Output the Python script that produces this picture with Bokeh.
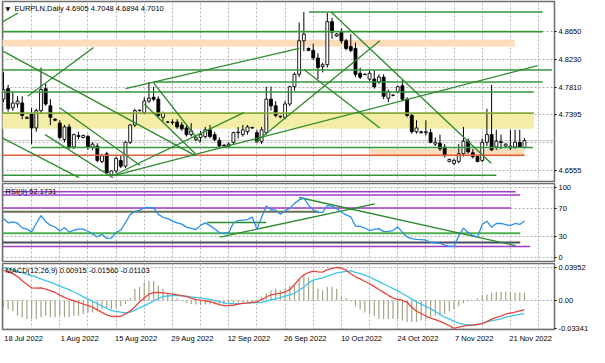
from bokeh.plotting import figure
from bokeh.models import Range1d, FixedTicker, Label, ColumnDataSource, PrintfTickFormatter
from bokeh.layouts import column
from bokeh.embed import file_html
from bokeh.resources import INLINE

SYMBOL = "EURPLN,Daily"

open_ = [4.7631, 4.7789, 4.7502, 4.7559, 4.7574, 4.7344, 4.7416, 4.7200, 4.7459, 4.7789,
         4.7531, 4.7330, 4.7272, 4.7028, 4.7215, 4.6913, 4.7086, 4.7057, 4.7071, 4.6913,
         4.6928, 4.6698, 4.6813, 4.6497, 4.6555, 4.6713, 4.6627, 4.6985, 4.7244, 4.7459,
         4.7430, 4.7602, 4.7660, 4.7631, 4.7359, 4.7287, 4.7287, 4.7287, 4.7244, 4.7200,
         4.7100, 4.7028, 4.7057, 4.7071, 4.7172, 4.7100, 4.7014, 4.6942, 4.6928, 4.6985,
         4.7129, 4.7100, 4.7143, 4.7200, 4.7129, 4.7000, 4.7129, 4.7631, 4.7531, 4.7373,
         4.7359, 4.7559, 4.7818, 4.8004, 4.8506, 4.8392, 4.8363, 4.8248, 4.8119, 4.8148,
         4.8793, 4.8578, 4.8635, 4.8506, 4.8420, 4.8392, 4.8019, 4.8004, 4.7932, 4.7932,
         4.7889, 4.7961, 4.7645, 4.7688, 4.7746, 4.7832, 4.7631, 4.7387, 4.7143, 4.7129,
         4.7129, 4.7129, 4.6957, 4.6971, 4.6913, 4.6698, 4.6670, 4.6698, 4.6813, 4.7000,
         4.6828, 4.6770, 4.6713, 4.6985, 4.7100, 4.6913, 4.6992, 4.6928, 4.6899, 4.6913,
         4.6985, 4.6905]
high_ = [4.8033, 4.7846, 4.7746, 4.7674, 4.7674, 4.7373, 4.7502, 4.7488, 4.8105, 4.7860,
         4.7631, 4.7344, 4.7315, 4.7244, 4.7258, 4.7114, 4.7143, 4.7100, 4.7100, 4.6985,
         4.6971, 4.6813, 4.6842, 4.6555, 4.6770, 4.6784, 4.7000, 4.7258, 4.7488, 4.7473,
         4.7660, 4.7889, 4.7818, 4.7674, 4.7445, 4.7301, 4.7330, 4.7330, 4.7287, 4.7244,
         4.7272, 4.7071, 4.7157, 4.7215, 4.7244, 4.7143, 4.7057, 4.6957, 4.6985, 4.7143,
         4.7215, 4.7244, 4.7244, 4.7215, 4.7172, 4.7215, 4.7818, 4.7818, 4.7602, 4.7387,
         4.7602, 4.7832, 4.8033, 4.8779, 4.8937, 4.8406, 4.8463, 4.8320, 4.8177, 4.8922,
         4.8851, 4.8621, 4.8693, 4.8535, 4.8607, 4.8478, 4.8105, 4.8019, 4.8062, 4.8062,
         4.8004, 4.8004, 4.7774, 4.7703, 4.7832, 4.7918, 4.7660, 4.7416, 4.7315, 4.7157,
         4.7315, 4.7186, 4.7057, 4.7100, 4.6957, 4.6741, 4.6741, 4.6957, 4.7215, 4.7043,
         4.6885, 4.6784, 4.7043, 4.7488, 4.7846, 4.7172, 4.7100, 4.6971, 4.7172, 4.7172,
         4.7172, 4.7048]
low_ = [4.7588, 4.7445, 4.7459, 4.7502, 4.7330, 4.7330, 4.6957, 4.7143, 4.7416, 4.7531,
        4.7244, 4.7301, 4.7028, 4.6985, 4.6885, 4.6885, 4.7028, 4.7043, 4.6870, 4.6870,
        4.6684, 4.6670, 4.6512, 4.6490, 4.6526, 4.6598, 4.6598, 4.6957, 4.7215, 4.7445,
        4.7402, 4.7574, 4.7602, 4.7359, 4.7301, 4.7272, 4.7244, 4.7186, 4.7157, 4.7071,
        4.7071, 4.7000, 4.6985, 4.7043, 4.7043, 4.7000, 4.6914, 4.6920, 4.6900, 4.6957,
        4.7043, 4.7071, 4.7100, 4.7186, 4.6971, 4.6957, 4.7100, 4.7459, 4.7359, 4.7344,
        4.7330, 4.7531, 4.7760, 4.7961, 4.8349, 4.8349, 4.8220, 4.7932, 4.8033, 4.8105,
        4.8535, 4.8564, 4.8463, 4.8363, 4.8335, 4.7961, 4.7932, 4.7990, 4.7904, 4.7789,
        4.7860, 4.7631, 4.7588, 4.7674, 4.7717, 4.7602, 4.7359, 4.7114, 4.7114, 4.7114,
        4.7086, 4.6971, 4.6928, 4.6856, 4.6756, 4.6684, 4.6641, 4.6670, 4.6770, 4.6813,
        4.6741, 4.6684, 4.6684, 4.6928, 4.6856, 4.6870, 4.6885, 4.6914, 4.6870, 4.6885,
        4.6899, 4.6894]
close_ = [4.7775, 4.7488, 4.7574, 4.7602, 4.7387, 4.7359, 4.7200, 4.7459, 4.7775, 4.7559,
          4.7359, 4.7315, 4.7057, 4.7215, 4.6913, 4.7100, 4.7071, 4.7086, 4.6913, 4.6957,
          4.6713, 4.6784, 4.6526, 4.6555, 4.6741, 4.6627, 4.6985, 4.7244, 4.7459, 4.7466,
          4.7602, 4.7645, 4.7631, 4.7387, 4.7416, 4.7290, 4.7280, 4.7215, 4.7186, 4.7100,
          4.7157, 4.7057, 4.7100, 4.7172, 4.7071, 4.7028, 4.6928, 4.6930, 4.6957, 4.7129,
          4.7136, 4.7172, 4.7215, 4.7208, 4.7000, 4.7172, 4.7631, 4.7531, 4.7387, 4.7366,
          4.7559, 4.7818, 4.8004, 4.8506, 4.8607, 4.8363, 4.8248, 4.8105, 4.8148, 4.8793,
          4.8635, 4.8607, 4.8506, 4.8392, 4.8363, 4.8004, 4.7961, 4.8000, 4.8019, 4.7818,
          4.7961, 4.7674, 4.7746, 4.7690, 4.7818, 4.7631, 4.7387, 4.7143, 4.7200, 4.7143,
          4.7143, 4.6985, 4.6985, 4.6885, 4.6784, 4.6727, 4.6713, 4.6813, 4.7000, 4.6842,
          4.6770, 4.6698, 4.6985, 4.7100, 4.6870, 4.7000, 4.6985, 4.6957, 4.6928, 4.6985,
          4.6913, 4.7010]

rsi9 = [55.9, 49.6, 50.9, 49.0, 42.4, 40.7, 36.7, 48.6, 59.7, 51.2,
        46.2, 43.6, 37.9, 42.6, 36.3, 39.0, 40.5, 40.5, 37.6, 33.5,
        29.7, 33.1, 27.5, 27.8, 36.1, 39.2, 49.7, 61.2, 65.7, 67.3,
        71.1, 71.6, 70.8, 61.5, 57.4, 55.4, 52.0, 49.6, 47.7, 43.5,
        41.7, 40.0, 45.9, 49.5, 45.5, 41.2, 35.4, 34.6, 35.8, 49.3,
        52.6, 53.4, 54.2, 57.7, 40.5, 57.3, 73.6, 68.1, 67.6, 61.6,
        66.7, 70.1, 77.2, 82.1, 84.7, 74.5, 67.9, 64.3, 64.3, 74.1,
        73.2, 69.6, 64.9, 60.7, 58.1, 45.0, 44.5, 42.2, 38.6, 40.3,
        41.3, 37.0, 37.4, 38.5, 43.8, 35.9, 29.3, 27.0, 26.1, 25.8,
        24.9, 21.6, 21.6, 20.5, 17.8, 16.1, 16.2, 31.1, 42.0, 35.7,
        31.6, 29.3, 47.3, 52.0, 43.2, 48.6, 48.6, 46.9, 45.6, 48.6,
        47.3, 52.1731]

macd_main = [0.03637, 0.03431, 0.03215, 0.02861, 0.02348, 0.01927, 0.01505, 0.01471, 0.01505, 0.01368,
             0.01174, 0.00958, 0.00638, 0.00365, 0.00148, -0.00046, -0.00239, -0.00422, -0.00604, -0.00809,
             -0.01117, -0.01425, -0.01733, -0.01904, -0.01915, -0.01892, -0.01596, -0.01265, -0.00741, -0.00182,
             0.00296, 0.00752, 0.00935, 0.00969, 0.00912, 0.00855, 0.00752, 0.00661, 0.00581, 0.00467,
             0.00285, 0.00103, 0.00034, -0.00034, -0.00137, -0.00308, -0.00490, -0.00604, -0.00627, -0.00570,
             -0.00445, -0.00342, -0.00285, -0.00217, -0.00171, 0.00091, 0.00445, 0.00650, 0.00798, 0.00855,
             0.01015, 0.01288, 0.01915, 0.02554, 0.03067, 0.03340, 0.03511, 0.03409, 0.03386, 0.03694,
             0.03830, 0.03952, 0.03853, 0.03625, 0.03203, 0.02827, 0.02576, 0.02269, 0.01995, 0.01653,
             0.01311, 0.00969, 0.00616, 0.00285, 0.00125, 0.00011, -0.00217, -0.00809, -0.01288, -0.01562,
             -0.01858, -0.02109, -0.02291, -0.02497, -0.02747, -0.03021, -0.03341, -0.03181, -0.03055, -0.02987,
             -0.02941, -0.02850, -0.02759, -0.02531, -0.02223, -0.02029, -0.01881, -0.01620, -0.01500, -0.01380,
             -0.01240, -0.01103]
macd_signal = [0.03940, 0.03842, 0.03659, 0.03477, 0.03295, 0.03124, 0.02964, 0.02804, 0.02588, 0.02383,
               0.02189, 0.01961, 0.01721, 0.01505, 0.01300, 0.01015, 0.00741, 0.00433, 0.00160, -0.00114,
               -0.00388, -0.00661, -0.00935, -0.01220, -0.01311, -0.01391, -0.01482, -0.01391, -0.01151, -0.00878,
               -0.00638, -0.00353, -0.00068, 0.00217, 0.00479, 0.00536, 0.00570, 0.00593, 0.00547, 0.00513,
               0.00433, 0.00365, 0.00308, 0.00228, 0.00114, 0.00000, -0.00125, -0.00285, -0.00376, -0.00376,
               -0.00376, -0.00353, -0.00319, -0.00274, -0.00262, -0.00228, -0.00080, 0.00057, 0.00182, 0.00342,
               0.00513, 0.00673, 0.00855, 0.01220, 0.01619, 0.02075, 0.02440, 0.02576, 0.02713, 0.02907,
               0.03101, 0.03306, 0.03397, 0.03477, 0.03534, 0.03363, 0.03203, 0.03032, 0.02804, 0.02531,
               0.02257, 0.01972, 0.01699, 0.01414, 0.01140, 0.00832, 0.00502, 0.00160, -0.00160, -0.00433,
               -0.00718, -0.00980, -0.01311, -0.01642, -0.01972, -0.02223, -0.02485, -0.02702, -0.02827, -0.02930,
               -0.02930, -0.02896, -0.02713, -0.02531, -0.02417, -0.02314, -0.02200, -0.02000, -0.01870, -0.01760,
               -0.01660, -0.01560]
macd_hist = [-0.0080, -0.0106, -0.0125, -0.0182, -0.0201, -0.0220, -0.0220, -0.0220, -0.0201, -0.0182,
             -0.0201, -0.0201, -0.0182, -0.0201, -0.0201, -0.0182, -0.0182, -0.0163, -0.0145, -0.0145,
             -0.0125, -0.0106, -0.0088, -0.0106, -0.0088, -0.0068, -0.0042, 0.0026, 0.0140, 0.0160,
             0.0217, 0.0236, 0.0236, 0.0179, 0.0140, 0.0083, 0.0046, 0.0026, -0.0011, -0.0031,
             -0.0042, -0.0049, -0.0049, -0.0049, -0.0049, -0.0049, -0.0049, -0.0049, -0.0042, -0.0031,
             -0.0026, -0.0023, -0.0019, -0.0019, -0.0015, 0.0046, 0.0083, 0.0122, 0.0140, 0.0122,
             0.0140, 0.0179, 0.0179, 0.0255, 0.0312, 0.0274, 0.0236, 0.0141, 0.0122, 0.0160,
             0.0160, 0.0141, 0.0046, 0.0027, -0.0011, -0.0068, -0.0106, -0.0144, -0.0163, -0.0182,
             -0.0220, -0.0220, -0.0220, -0.0220, -0.0220, -0.0239, -0.0258, -0.0258, -0.0258, -0.0239,
             -0.0220, -0.0201, -0.0182, -0.0182, -0.0163, -0.0125, -0.0106, -0.0068, -0.0030, -0.0011,
             -0.0004, 0.0027, 0.0065, 0.0072, 0.0095, 0.0103, 0.0103, 0.0103, 0.0095, 0.0095,
             0.0095, 0.00915]

date_tick_bars = [0, 12, 24, 36, 48, 60, 72, 84, 96, 108]
date_tick_labels = ["18 Jul 2022", "1 Aug 2022", "15 Aug 2022", "29 Aug 2022", "12 Sep 2022",
                    "26 Sep 2022", "10 Oct 2022", "24 Oct 2022", "7 Nov 2022", "21 Nov 2022"]
price_ticks = [4.6555, 4.7395, 4.7810, 4.8230, 4.8650]
price_grid = [4.6555, 4.6975, 4.7395, 4.7810, 4.8230, 4.8650]
rsi_ticks = [0, 30, 70, 100]
macd_ticks = [-0.03341, 0.0, 0.03952]
macd_tick_labels = ["-0.03341", "0.00", "0.03952"]

# drawn objects on the price panel
zone_low = [4.8420, 4.7186, 4.6770]
zone_high = [4.8521, 4.7423, 4.6885]
zone_from = [-1.0, -1.0, 78.0]
zone_to = [108.9, 113.0, 111.0]

level_price = [4.8937, 4.8643, 4.8069, 4.7889, 4.7739, 4.6906, 4.6490]
level_from = [65.1, -1.0, -1.0, 32.0, -1.0, 6.0, -1.0]
level_to = [114.9, 114.9, 116.9, 114.9, 113.0, 112.8, 105.0]
zone_edge_price = [4.7423]
zone_edge_from = [-1.0]
zone_edge_to = [113.0]
red_level_price = [4.6791]
red_level_from = [-1.0]
red_level_to = [111.0]

trend_x0 = [-0.41, 0.0, 5.17, -0.41, 8.88, 11.98, 23.3, 23.3, 32.0, 30.0, 26.0, 53.7, 64.0, 69.8]
trend_y0 = [4.8779, 4.8348, 4.7674, 4.7057, 4.7100, 4.7502, 4.6483, 4.6483, 4.7875, 4.7559, 4.7789, 4.6985, 4.8076, 4.8937]
trend_x1 = [3.10, 40.9, 19.2, 16.1, 23.3, 29.1, 51.2, 113.8, 41.9, 40.9, 63.0, 80.2, 80.2, 103.9]
trend_y1 = [4.8922, 4.6784, 4.8406, 4.6454, 4.6454, 4.6641, 4.7430, 4.8133, 4.6985, 4.6813, 4.8392, 4.8506, 4.7200, 4.6670]

# drawn objects on the RSI panel
rsi_purple_level = [93.6, 89.2, 70.7, 15.8]
rsi_purple_from = [-1.0, -1.0, -1.0, -1.0]
rsi_purple_to = [109.1, 110.1, 108.1, 112.2]
rsi_olive_level = [65.3]
rsi_olive_to = [67.2]
rsi_green_level = [34.7]
rsi_green_to = [110.1]
rsi_dark_level = [21.6]
rsi_dark_to = [110.1]
rsi_short_level = [50.0]
rsi_short_from = [43.4]
rsi_short_to = [56.0]
rsi_trend_x0 = [46.1, 63.0]
rsi_trend_y0 = [29.3, 85.5]
rsi_trend_x1 = [79.1, 109.1]
rsi_trend_y1 = [76.6, 17.1]

# ---------------------------------------------------------------- layout
FONT = "Liberation Sans"
FS = "7.5px"
FRAME_W = 552
xr = Range1d(-0.2, 117.4)
bars = list(range(len(close_)))
week_grid = list(range(0, 118, 6))
GREEN = "#36963a"
TREND = "#2b8a2b"


def make_fig(frame_h, yr, top, bottom, show_x):
    p = figure(frame_width=FRAME_W, frame_height=frame_h, x_range=xr, y_range=yr,
               output_backend="svg", toolbar_location=None, y_axis_location="right",
               x_axis_location="below" if show_x else None,
               min_border_left=2, min_border_right=35, min_border_top=top, min_border_bottom=bottom)
    p.background_fill_color = "white"
    p.border_fill_color = "white"
    p.outline_line_color = "#6e6e6e"
    p.outline_line_width = 1.5
    ax = p.yaxis[0]
    ax.axis_line_color = None
    ax.major_tick_out = 2
    ax.major_tick_in = 0
    ax.major_tick_line_color = "black"
    ax.minor_tick_line_color = None
    ax.major_label_text_font = FONT
    ax.major_label_text_font_size = FS
    ax.major_label_text_color = "black"
    ax.major_label_standoff = 2
    p.xgrid.ticker = FixedTicker(ticks=week_grid)
    p.xgrid.grid_line_color = "#b4b4b4"
    p.xgrid.grid_line_dash = "2 2"
    p.ygrid.grid_line_color = "#b4b4b4"
    p.ygrid.grid_line_dash = "2 2"
    return p


# ---------------- price panel
p1 = make_fig(180, Range1d(4.6397, 4.9095), 1, 1, False)
p1.yaxis[0].ticker = FixedTicker(ticks=price_ticks)
p1.yaxis[0].formatter = PrintfTickFormatter(format="%.4f")
p1.ygrid.ticker = FixedTicker(ticks=price_grid)

p1.quad(left=zone_from, right=zone_to, bottom=zone_low, top=zone_high,
        fill_color=["#fddcba", "#f3eda8", "#fddcba"], line_color=None)

# bid line
p1.segment(x0=[xr.start], x1=[xr.end], y0=[close_[-1]], y1=[close_[-1]], line_color="#c8c8c8", line_width=1)

up = [c >= o for o, c in zip(open_, close_)]
src = ColumnDataSource(dict(
    x=bars, h=high_, l=low_,
    top=[max(o, c) for o, c in zip(open_, close_)],
    bottom=[min(o, c) for o, c in zip(open_, close_)],
    fill=["white" if u else "black" for u in up]))
p1.segment(x0="x", y0="l", x1="x", y1="h", source=src, line_color="black", line_width=1)
p1.vbar(x="x", width=0.62, top="top", bottom="bottom", fill_color="fill", line_color="black",
        line_width=0.9, source=src)

p1.segment(x0=level_from, x1=level_to, y0=level_price, y1=level_price, line_color=GREEN, line_width=1.6)
p1.segment(x0=zone_edge_from, x1=zone_edge_to, y0=zone_edge_price, y1=zone_edge_price,
           line_color="#86a83a", line_width=1.8)
p1.segment(x0=red_level_from, x1=red_level_to, y0=red_level_price, y1=red_level_price,
           line_color="#e0603c", line_width=1.6)
p1.segment(x0=trend_x0, y0=trend_y0, x1=trend_x1, y1=trend_y1, line_color=TREND, line_width=1.3)

p1.add_layout(Label(x=3, y=177, x_units="screen", y_units="screen", text="\u25bc",
                    text_font="DejaVu Sans", text_font_size="6px", text_baseline="top", text_color="black"))
p1.add_layout(Label(x=12, y=178, x_units="screen", y_units="screen",
                    text=f"{SYMBOL}  {open_[-1]:.4f} {high_[-1]:.4f} {low_[-1]:.4f} {close_[-1]:.4f}",
                    text_font=FONT, text_font_size=FS, text_baseline="top", text_color="black"))
p1.add_layout(Label(x=FRAME_W + 1, y=close_[-1], x_units="screen", y_units="data",
                    text=f"{close_[-1]:.4f}", text_font=FONT, text_font_size=FS, text_baseline="middle",
                    text_color="white", background_fill_color="black"))

# ---------------- RSI panel
p2 = make_fig(78, Range1d(-5.4, 105.4), 1, 1, False)
p2.yaxis[0].ticker = FixedTicker(ticks=rsi_ticks)
p2.ygrid.ticker = FixedTicker(ticks=rsi_ticks)
p2.segment(x0=rsi_purple_from, x1=rsi_purple_to, y0=rsi_purple_level, y1=rsi_purple_level,
           line_color="#a03cc8", line_width=1.5)
p2.segment(x0=[-1.0], x1=rsi_olive_to, y0=rsi_olive_level, y1=rsi_olive_level,
           line_color="#6e6e58", line_width=2)
p2.segment(x0=[-1.0], x1=rsi_green_to, y0=rsi_green_level, y1=rsi_green_level,
           line_color="#4cb04c", line_width=2)
p2.segment(x0=[-1.0], x1=rsi_dark_to, y0=rsi_dark_level, y1=rsi_dark_level,
           line_color="#4b4b63", line_width=2)
p2.segment(x0=rsi_short_from, x1=rsi_short_to, y0=rsi_short_level, y1=rsi_short_level,
           line_color=TREND, line_width=1.3)
p2.segment(x0=rsi_trend_x0, y0=rsi_trend_y0, x1=rsi_trend_x1, y1=rsi_trend_y1,
           line_color=TREND, line_width=1.3)
p2.line(bars, rsi9, line_color="#2a8fe6", line_width=1.3)
p2.add_layout(Label(x=3, y=75, x_units="screen", y_units="screen", text=f"RSI(9) {rsi9[-1]:.4f}",
                    text_font=FONT, text_font_size=FS, text_baseline="top", text_color="black"))

# ---------------- MACD panel
p3 = make_fig(66, Range1d(-0.0347, 0.0442), 1, 18, True)
p3.yaxis[0].ticker = FixedTicker(ticks=macd_ticks)
p3.yaxis[0].major_label_overrides = dict(zip(macd_ticks, macd_tick_labels))
p3.ygrid.ticker = FixedTicker(ticks=macd_ticks)
LABEL_SHIFT = 4.3
shifted = [round(b + LABEL_SHIFT, 2) for b in date_tick_bars]
xa = p3.xaxis[0]
xa.ticker = FixedTicker(ticks=shifted)
xa.major_label_overrides = dict(zip(shifted, date_tick_labels))
xa.axis_line_color = None
xa.major_tick_line_color = None
xa.minor_tick_line_color = None
xa.major_tick_out = 0
xa.major_label_standoff = 4
xa.major_label_text_font = FONT
xa.major_label_text_font_size = FS
xa.major_label_text_color = "black"

p3.segment(x0=bars, x1=bars, y0=[0.0] * len(bars), y1=macd_hist, line_color="#a3a388", line_width=1.2)
p3.line(bars, macd_signal, line_color="#3cc4ec", line_width=1.3)
p3.line(bars, macd_main, line_color="#e8443c", line_width=1.3)
p3.add_layout(Label(x=3, y=64, x_units="screen", y_units="screen",
                    text=f"MACD(12,26,9) {macd_hist[-1]:.5f} {macd_signal[-1]:.5f} {macd_main[-1]:.5f}",
                    text_font=FONT, text_font_size=FS, text_baseline="top", text_color="black"))

page = column(p1, p2, p3)
open("out.html", "w").write(file_html(page, INLINE))
